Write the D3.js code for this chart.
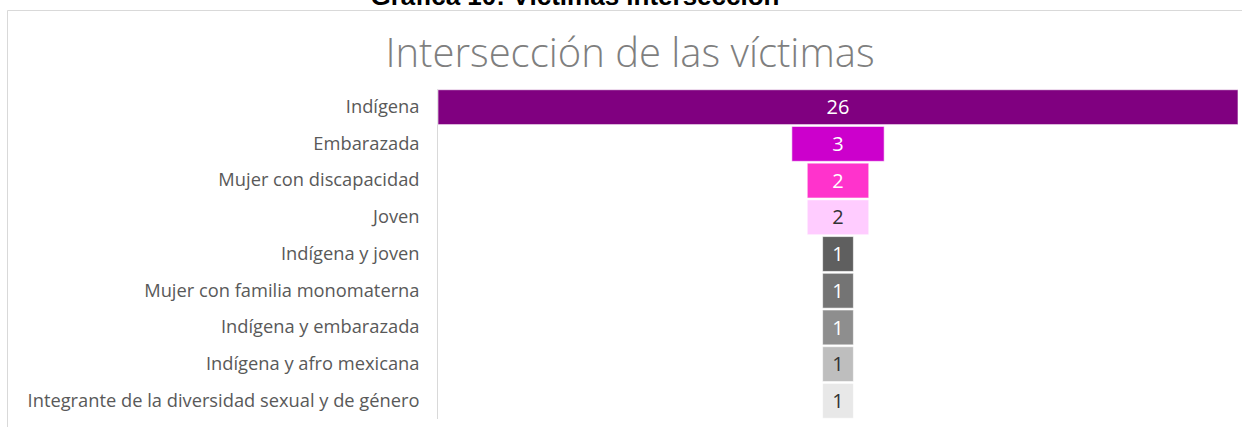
<!DOCTYPE html>
<html>
<head>
<meta charset="utf-8">
<script src="https://cdn.jsdelivr.net/npm/d3@7"></script>
<style>
    html, body { margin: 0; padding: 0; background: #fff; }
    svg { display: block; }
</style>
</head>
<body>
<div class="chart"></div>
<script>
const categories = [
    'Indígena',
    'Embarazada',
    'Mujer con discapacidad',
    'Joven',
    'Indígena y joven',
    'Mujer con familia monomaterna',
    'Indígena y embarazada',
    'Indígena y afro mexicana',
    'Integrante de la diversidad sexual y de género'
];
const values = [26, 3, 2, 2, 1, 1, 1, 1, 1];
const barColors = ['#800080', '#cc00cc', '#ff33cc', '#ffccff', '#5f5f5f', '#747474', '#8e8e8e', '#bebebe', '#e8e8e8'];
const labelColors = ['#fff', '#fff', '#fff', '#333', '#fff', '#fff', '#fff', '#333', '#333'];
const heading = 'Gráfica 10: Víctimas intersección';
const chartTitle = 'Intersección de las víctimas';

const drawChart = () => {
    const chartWidth = 1242;
    const chartHeight = 427;
    const data = categories.map((name, i) => ({ name, value: values[i], fill: barColors[i], labelFill: labelColors[i] }));

    const canvas = d3.select('div.chart').append('svg').attr('width', chartWidth).attr('height', chartHeight);

    // document caption above the chart, cut off by the page top as in the source
    canvas.append('text')
        .attr('x', 575)
        .attr('y', 5)
        .attr('text-anchor', 'middle')
        .attr('font-family', 'Liberation Sans, Arial, sans-serif')
        .attr('font-weight', 'bold')
        .attr('font-size', 26)
        .attr('fill', '#000')
        .text(heading);

    // chart area frame (only top and left edges fall inside the picture)
    canvas.append('path')
        .attr('d', `M7.5,${chartHeight} V10.5 H${chartWidth}`)
        .attr('fill', 'none')
        .attr('stroke', '#d9d9d9')
        .attr('stroke-width', 1);

    canvas.append('text')
        .attr('x', 630)
        .attr('y', 67)
        .attr('text-anchor', 'middle')
        .attr('font-family', 'Open Sans, sans-serif')
        .attr('font-weight', 300)
        .attr('font-size', 40)
        .attr('fill', '#7f7f7f')
        .text(chartTitle);

    const y = d3.scaleBand().domain(categories).range([89, 419]).paddingInner(0.05).paddingOuter(0.02);
    const x = d3.scaleLinear().domain([-d3.max(values) / 2, d3.max(values) / 2]).range([438, 1238]);

    const yAxis = d3.axisLeft(y).tickSize(0).tickPadding(18);
    const axisGroup = canvas.append('g').classed('y-axis', true).attr('transform', 'translate(437.5, 0)').call(yAxis);
    axisGroup.select('.domain').attr('stroke', '#d9d9d9').attr('d', `M0,89V419`);
    axisGroup.selectAll('text')
        .attr('font-family', 'Open Sans, sans-serif')
        .attr('font-size', 18.3)
        .attr('fill', '#595959');

    const barGroup = canvas.append('g').classed('bar-group', true);
    barGroup.selectAll('rect.bar')
        .data(data)
        .enter()
        .append('rect')
        .classed('bar', true)
        .attr('x', d => x(-d.value / 2))
        .attr('y', d => y(d.name))
        .attr('width', d => x(d.value / 2) - x(-d.value / 2))
        .attr('height', y.bandwidth())
        .attr('fill', d => d.fill)
        .attr('stroke', 'rgba(255,255,255,0.6)')
        .attr('stroke-width', 1);

    barGroup.selectAll('text.value')
        .data(data)
        .enter()
        .append('text')
        .classed('value', true)
        .attr('x', d => x(0))
        .attr('y', d => y(d.name) + y.bandwidth() / 2)
        .attr('dy', '0.36em')
        .attr('text-anchor', 'middle')
        .attr('font-family', 'Open Sans, sans-serif')
        .attr('font-size', 20)
        .attr('fill', d => d.labelFill)
        .text(d => d.value);
};

drawChart();
</script>
</body>
</html>
